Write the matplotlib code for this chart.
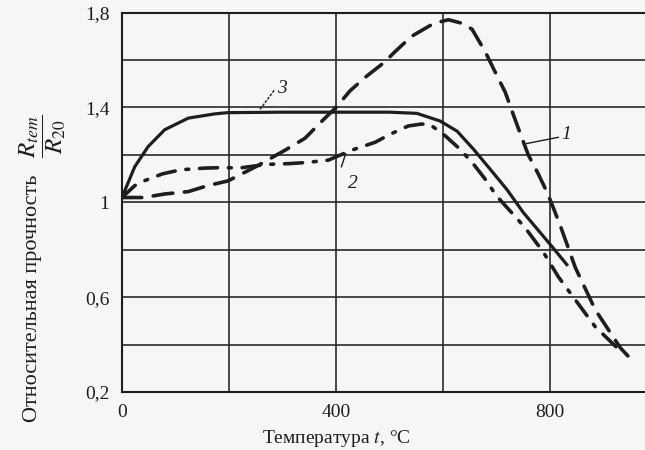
import numpy as np
import matplotlib
matplotlib.use("Agg")
import matplotlib.pyplot as plt

plt.rcParams['font.family'] = ['Liberation Serif', 'DejaVu Serif']
plt.rcParams['mathtext.fontset'] = 'stix'

# curve 1 (long dashes)
t1 = [0, 40, 80, 124, 160, 198, 250, 305, 342, 377, 400, 426, 456, 490, 510, 541,
      583, 610, 635, 654, 679, 697, 716, 731, 744, 759, 778, 796, 819, 847, 884, 931, 950]
r1 = [1.02, 1.02, 1.035, 1.045, 1.07, 1.09, 1.15, 1.22, 1.27, 1.35, 1.40, 1.47, 1.53,
      1.59, 1.635, 1.70, 1.755, 1.77, 1.755, 1.73, 1.633, 1.55, 1.464, 1.37, 1.29, 1.20,
      1.118, 1.033, 0.90, 0.724, 0.547, 0.386, 0.34]

# curve 2 (dash-dot)
t2 = [0, 24, 41, 76, 110, 153, 183, 221, 271, 312, 346, 386, 398, 432, 473, 501, 535,
      560, 576, 604, 632, 657, 679, 700, 728, 753, 787, 815, 851, 884, 925, 935]
r2 = [1.02, 1.07, 1.09, 1.12, 1.137, 1.144, 1.146, 1.145, 1.16, 1.163, 1.168, 1.178,
      1.19, 1.222, 1.253, 1.287, 1.322, 1.33, 1.327, 1.28, 1.223, 1.16, 1.096, 1.026,
      0.956, 0.893, 0.79, 0.686, 0.576, 0.475, 0.386, 0.37]

# curve 3 (solid)
t3 = [0, 24, 49, 80, 124, 174, 198, 300, 400, 500, 551, 594, 626, 657, 688, 719, 750,
      803, 831]
r3 = [1.02, 1.15, 1.235, 1.306, 1.355, 1.373, 1.378, 1.38, 1.38, 1.38, 1.375, 1.343,
      1.30, 1.223, 1.139, 1.054, 0.956, 0.814, 0.737]

xticks = [0, 200, 400, 600, 800]
xlabels = ['0', '', '400', '', '800']
yticks = [0.2, 0.4, 0.6, 0.8, 1.0, 1.2, 1.4, 1.6, 1.8]
ylabels = ['0,2', '', '0,6', '', '1', '', '1,4', '', '1,8']

bg = '#f6f6f4'
ink = '#1e1e1e'

fig = plt.figure(figsize=(6.45, 4.5), dpi=100, facecolor=bg)
ax = fig.add_axes([0.189, 0.129, 0.811, 0.843], facecolor=bg)

ax.plot(t1, r1, color=ink, lw=2.6, dashes=(5.5, 3.2), dash_capstyle='round')
ax.plot(t2, r2, color=ink, lw=2.6, dashes=(5, 3, 0.8, 3), dash_capstyle='round')
ax.plot(t3, r3, color=ink, lw=2.3)

ax.set_xlim(0, 977)
ax.set_ylim(0.2, 1.8)
ax.set_xticks(xticks)
ax.set_xticklabels(xlabels)
ax.set_yticks(yticks)
ax.set_yticklabels(ylabels)
ax.tick_params(length=0, labelsize=14, colors=ink, pad=9)
ax.grid(True, color='#2a2a2a', lw=1.2)
for s in ['left', 'bottom', 'top']:
    ax.spines[s].set_color(ink)
    ax.spines[s].set_linewidth(1.5)
ax.spines['right'].set_visible(False)

# curve labels with leader lines
ax.plot([258, 286], [1.392, 1.477], color=ink, lw=1.0, ls=(0, (2, 1)))
ax.text(290, 1.48, '3', fontsize=14, style='italic', color=ink, va='center')
ax.plot([418, 410], [1.205, 1.15], color=ink, lw=1.0)
ax.text(432, 1.08, '2', fontsize=14, style='italic', color=ink, ha='center', va='center')
ax.plot([750, 815], [1.245, 1.274], color=ink, lw=1.0)
ax.text(820, 1.285, '1', fontsize=14, style='italic', color=ink, va='center')

ax.set_xlabel(r'Температура $t$, °C', fontsize=14, color=ink)
ax.xaxis.set_label_coords(0.41, -0.095)

# y axis title: words plus the ratio above them
fig.text(0.050, 0.338, 'Относительная прочность', rotation=90, fontsize=16,
         color=ink, ha='center', va='center')
fig.text(0.067, 0.697, r'$\dfrac{R_{tem}}{R_{20}}$', rotation=90, fontsize=18,
         color=ink, ha='center', va='center')

fig.savefig('out.png', dpi=100, facecolor=bg)
